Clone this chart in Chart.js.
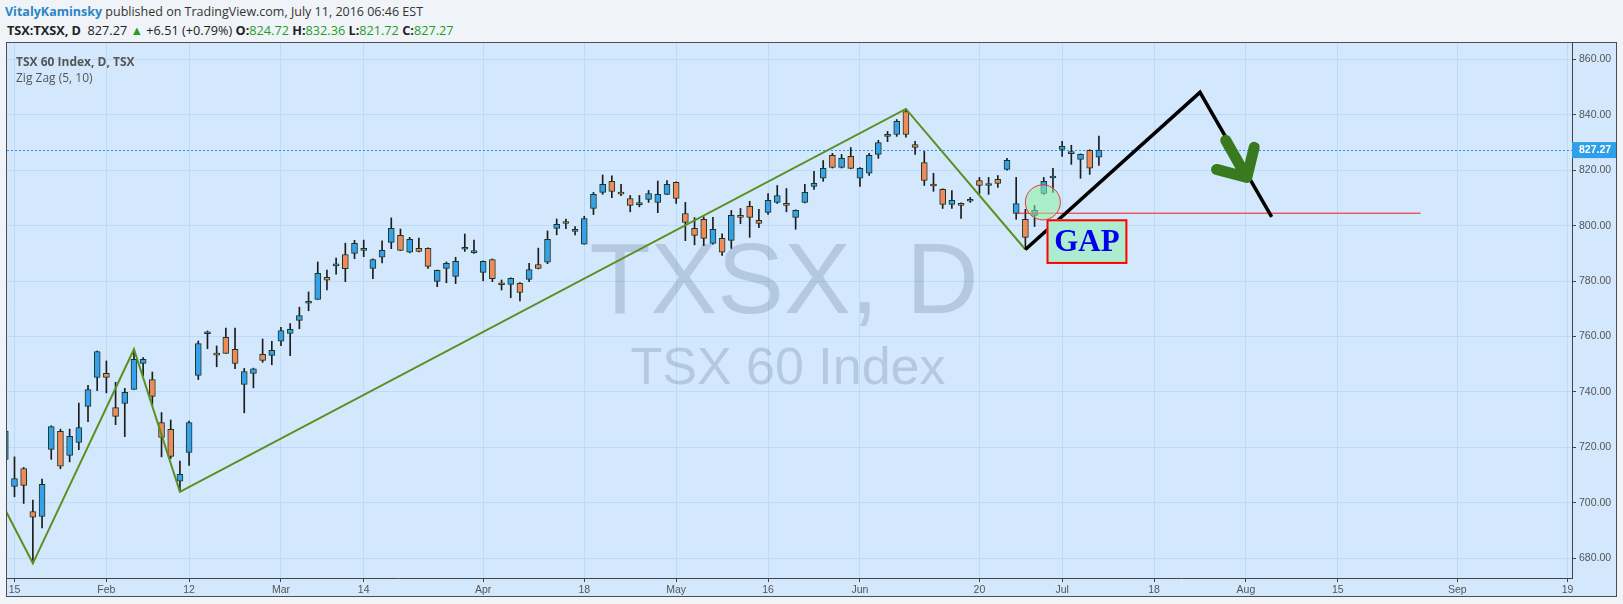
<!DOCTYPE html>
<html>
<head>
<meta charset="utf-8">
<script src="https://cdn.jsdelivr.net/npm/chart.js@4.4.0/dist/chart.umd.min.js"></script>
<style>
  body { margin: 0; width: 1623px; height: 604px; overflow: hidden; background: #f0f3f7; font-family: "Open Sans", sans-serif; }
  .hdr { position: absolute; white-space: nowrap; font-size: 12.5px; line-height: 16px; color: #333; }
  .g { color: #1f9e1f; }
  #panel { position: absolute; left: 6px; top: 42px; width: 1611px; height: 555px; box-sizing: border-box; border: 1px solid #4d4d4d; background: #d3e8fd; }
  #wrap { position: absolute; left: 0; top: 0; width: 1609px; height: 553px; }
  .lg { position: absolute; left: 9px; font-size: 12px; line-height: 14px; color: #555; white-space: nowrap; }
</style>
</head>
<body>
<div class="hdr" style="left:5px; top:4px;"><b style="color:#2a86c6">VitalyKaminsky</b> published on TradingView.com, July 11, 2016 06:46 EST</div>
<div class="hdr" style="left:7px; top:22px; color:#222; font-size:12.7px;"><b>TSX:TXSX, D</b>&nbsp; 827.27 <span class="g">&#9650;</span> +6.51 (+0.79%) <b>O:</b><span class="g">824.72</span> <b>H:</b><span class="g">832.36</span> <b>L:</b><span class="g">821.72</span> <b>C:</b><span class="g">827.27</span></div>
<div id="panel">
  <div id="wrap"><canvas id="chart"></canvas></div>
  <div class="lg" style="top:12px; font-weight:bold;">TSX 60 Index, D, TSX</div>
  <div class="lg" style="top:28px;">Zig Zag (5, 10)</div>
</div>
<script>
// daily candles, one per trading day (index 0 = first visible bar)
const OPEN = [715.7, 705.9, 712.4, 696.9, 695.1, 719.3, 725.8, 717.1, 721.8, 734.8,
  745.3, 746.7, 734.4, 735.9, 740.9, 750.3, 744.5, 729.0, 726.5, 707.8,
  718.2, 746.0, 761.0, 753.6, 759.7, 755.4, 742.7, 746.7, 753.6, 753.2,
  758.3, 761.1, 765.8, 772.0, 773.4, 781.4, 785.5, 789.6, 790.0, 791.1,
  784.6, 788.6, 794.0, 796.5, 790.4, 791.8, 791.8, 779.9, 784.6, 781.7,
  791.5, 790.3, 783.1, 787.8, 779.0, 778.8, 779.2, 780.6, 786.0, 786.8,
  799.0, 801.5, 797.9, 793.3, 806.2, 812.0, 816.0, 811.6, 809.8, 807.6,
  809.5, 808.4, 811.3, 815.6, 804.4, 799.0, 802.3, 793.6, 795.4, 794.7,
  803.7, 807.0, 801.9, 804.8, 808.4, 808.0, 803.0, 808.4, 814.2, 817.1,
  825.4, 821.0, 825.0, 817.1, 818.9, 825.7, 832.2, 832.9, 841.2, 829.3,
  822.8, 814.5, 813.1, 807.7, 808.0, 808.8, 816.3, 814.5, 816.7, 820.3,
  804.4, 802.3, 803.7, 811.6, 817.2, 827.5, 826.0, 823.9, 827.2, 824.72];
const HIGH = [727.0, 716.6, 712.8, 701.0, 708.6, 727.8, 726.6, 726.6, 736.0, 742.4,
  754.8, 751.2, 743.5, 741.3, 755.4, 752.4, 747.2, 732.6, 729.9, 715.1,
  729.5, 758.4, 762.0, 756.6, 763.1, 763.1, 748.5, 748.6, 759.1, 758.3,
  763.3, 764.7, 770.6, 776.1, 786.9, 784.0, 788.3, 793.7, 794.7, 794.8,
  788.0, 794.5, 802.8, 798.8, 795.8, 795.5, 792.0, 784.0, 786.9, 788.6,
  797.0, 794.8, 787.3, 788.0, 780.4, 781.2, 779.5, 786.4, 791.9, 798.1,
  802.4, 802.4, 799.7, 803.4, 812.0, 818.3, 818.0, 814.9, 810.9, 810.9,
  812.7, 816.1, 816.3, 815.8, 808.4, 802.9, 803.2, 803.0, 797.1, 805.5,
  806.2, 808.8, 805.9, 811.6, 814.5, 813.4, 805.7, 814.9, 819.6, 823.5,
  826.1, 825.7, 828.2, 821.0, 826.1, 830.8, 834.0, 838.3, 842.1, 830.4,
  826.8, 818.9, 813.3, 812.7, 808.2, 810.2, 817.4, 817.4, 818.1, 824.3,
  817.4, 805.9, 807.3, 817.4, 820.7, 830.4, 829.0, 825.9, 827.4, 832.36];
const LOW = [714.5, 702.2, 699.8, 678.2, 691.0, 715.7, 712.3, 714.8, 719.2, 729.3,
  740.5, 739.7, 728.2, 723.9, 740.9, 745.9, 735.3, 716.6, 716.0, 704.0,
  713.5, 744.5, 755.6, 749.1, 753.9, 748.4, 732.5, 741.5, 750.7, 749.8,
  756.7, 753.1, 762.8, 769.3, 773.4, 776.8, 782.5, 779.8, 788.1, 788.8,
  780.9, 786.6, 791.7, 791.0, 790.2, 790.5, 784.6, 778.0, 779.4, 779.1,
  790.7, 790.0, 780.1, 779.8, 776.8, 774.0, 772.9, 779.8, 784.4, 786.3,
  796.7, 798.9, 796.7, 793.3, 804.0, 811.3, 810.1, 810.8, 805.0, 806.8,
  808.4, 804.7, 811.2, 808.0, 794.6, 793.1, 792.8, 793.3, 789.3, 791.8,
  800.7, 795.8, 799.3, 804.1, 808.0, 805.0, 798.7, 808.2, 813.1, 816.0,
  820.8, 820.8, 820.5, 814.2, 818.1, 824.3, 830.3, 832.2, 831.9, 825.7,
  814.5, 812.4, 806.2, 806.2, 802.6, 808.4, 811.6, 811.3, 813.8, 820.0,
  802.3, 791.4, 799.7, 811.3, 812.0, 825.0, 822.1, 817.1, 818.5, 821.72];
const CLOSE = [725.9, 708.8, 706.3, 694.8, 706.7, 727.5, 713.2, 724.0, 727.2, 740.9,
  754.6, 745.3, 731.2, 739.9, 751.8, 751.8, 738.4, 723.6, 716.8, 710.3,
  729.0, 757.5, 761.3, 753.3, 753.9, 750.3, 747.4, 748.4, 751.4, 755.0,
  762.2, 762.6, 767.6, 772.3, 782.8, 780.3, 785.8, 784.5, 793.6, 791.8,
  787.8, 791.1, 799.0, 791.1, 795.1, 790.7, 785.3, 783.9, 786.4, 787.1,
  792.2, 790.6, 787.1, 780.9, 778.7, 781.0, 775.9, 784.2, 784.6, 795.1,
  800.5, 800.8, 798.7, 802.6, 811.3, 814.9, 812.4, 811.4, 807.3, 807.8,
  811.6, 811.3, 814.9, 809.8, 801.2, 796.5, 795.4, 798.7, 790.4, 803.7,
  803.0, 803.0, 800.8, 809.1, 810.9, 807.3, 805.5, 812.0, 815.3, 820.7,
  821.0, 824.3, 820.7, 820.7, 825.4, 830.0, 832.4, 837.6, 832.9, 828.2,
  816.3, 814.3, 807.7, 809.1, 807.3, 809.5, 814.5, 815.2, 815.2, 823.6,
  808.0, 795.8, 805.5, 816.0, 817.4, 828.6, 826.2, 825.7, 820.76, 827.27];

// x axis: bar index of each labelled date (future days continue the count)
const X_TICK_IDX = [1, 11, 20, 30, 39, 52, 63, 73, 83, 93, 106, 115, 125, 135, 145, 158, 170];
const X_TICK_LABELS = ["15", "Feb", "12", "Mar", "14", "Apr", "18", "May", "16", "Jun", "20", "Jul", "18", "Aug", "15", "Sep", "19"];
const Y_TICKS = [680, 700, 720, 740, 760, 780, 800, 820, 840, 860];

// Zig Zag (5, 10) pivots
const ZZ_X = [0.1, 3, 14, 19, 98, 111];
const ZZ_Y = [696.8, 678.2, 755.4, 704.0, 842.1, 791.4];

// drawings: projection, gap level, circle, GAP box, arrow
const PROJ_X = [111, 130, 137.8];
const PROJ_Y = [791.4, 848.1, 803.2];
const GAP_LINE_X = [110, 154];
const GAP_LINE_Y = [804.5, 804.5];
const CIRCLE_X = [112.9];
const CIRCLE_Y = [808.4];
const GAP_BOX_X = [113.3, 122.1];
const GAP_BOX_Y = [786.2, 802.3];
const ARROW_X = [132.8, 135.1, null, 131.8, 135.1, null, 135.9, 135.1];
const ARROW_Y = [830.8, 817.4, null, 820.3, 817.4, null, 828.3, 817.4];
const LAST = 827.27;

const UP = "#36a1ea";
const DOWN = "#ef8a5d";
const FONT = "Liberation Sans";

const idx = OPEN.map((_, i) => i);
const pts = (xs, ys) => xs.map((x, i) => ({ x: x, y: ys[i] }));

// no automatic padding round the plot: it fills the panel up to the axes
function noPad(s) {
  s.paddingLeft = 0;
  s.paddingRight = 0;
  s.paddingTop = 0;
  s.paddingBottom = 0;
}

// watermark + last price line, drawn under the candles
const underlay = {
  id: "underlay",
  beforeDatasetsDraw(chart) {
    const { ctx, chartArea: a, scales } = chart;
    ctx.save();
    ctx.fillStyle = "rgba(100, 120, 150, 0.28)";
    ctx.textAlign = "center";
    ctx.font = `100px "${FONT}"`;
    ctx.fillText("TXSX, D", a.left + 777, a.top + 270);
    ctx.font = `52px "${FONT}"`;
    ctx.fillText("TSX 60 Index", a.left + 781, a.top + 341);

    const y = Math.round(scales.y.getPixelForValue(LAST)) + 0.5;
    ctx.strokeStyle = "#2196f3";
    ctx.lineWidth = 1;
    ctx.setLineDash([2, 2]);
    ctx.beginPath();
    ctx.moveTo(a.left, y);
    ctx.lineTo(a.right, y);
    ctx.stroke();
    ctx.restore();
  },
};

// GAP box and price label on the axis
const overlay = {
  id: "overlay",
  afterDatasetsDraw(chart) {
    const { ctx, scales } = chart;
    const x0 = scales.x.getPixelForValue(GAP_BOX_X[0]);
    const x1 = scales.x.getPixelForValue(GAP_BOX_X[1]);
    const y0 = scales.y.getPixelForValue(GAP_BOX_Y[1]);
    const y1 = scales.y.getPixelForValue(GAP_BOX_Y[0]);
    ctx.save();
    ctx.fillStyle = "#aeecd0";
    ctx.fillRect(x0, y0, x1 - x0, y1 - y0);
    ctx.strokeStyle = "#ff0000";
    ctx.lineWidth = 2;
    ctx.strokeRect(x0 + 1, y0 + 1, x1 - x0 - 2, y1 - y0 - 2);
    ctx.fillStyle = "#0000f0";
    ctx.font = `bold 31px "Liberation Serif"`;
    ctx.textAlign = "center";
    ctx.textBaseline = "middle";
    ctx.fillText("GAP", (x0 + x1) / 2, (y0 + y1) / 2 + 1);
    ctx.restore();
  },
  afterDraw(chart) {
    const { ctx, chartArea: a, scales } = chart;
    const y = scales.y.getPixelForValue(LAST);
    ctx.save();
    ctx.fillStyle = "#2e9fe8";
    ctx.fillRect(a.right, y - 8, chart.width - a.right, 16);
    ctx.fillStyle = "#ffffff";
    ctx.font = `bold 10.5px "${FONT}"`;
    ctx.textBaseline = "middle";
    ctx.fillText(LAST.toFixed(2), a.right + 7, y + 0.5);
    ctx.restore();
  },
};

new Chart(document.getElementById("chart"), {
  type: "bar",
  data: {
    datasets: [
      {
        type: "bar",
        data: idx.map((i) => ({ x: i, y: [LOW[i], HIGH[i]] })),
        barThickness: 1,
        backgroundColor: "#1c1c1c",
        borderWidth: 0,
        grouped: false,
        order: 10,
      },
      {
        type: "bar",
        data: idx.map((i) => ({ x: i, y: [OPEN[i], CLOSE[i]] })),
        barThickness: 6,
        backgroundColor: (c) => (CLOSE[c.dataIndex] >= OPEN[c.dataIndex] ? UP : DOWN),
        borderColor: "#1b361d",
        borderWidth: 1,
        borderSkipped: false,
        minBarLength: 2,
        grouped: false,
        order: 9,
      },
      {
        type: "line",
        data: pts(ZZ_X, ZZ_Y),
        borderColor: "#5b8f1e",
        borderWidth: 2,
        pointRadius: 0,
        fill: false,
        order: 8,
      },
      {
        type: "line",
        data: pts(GAP_LINE_X, GAP_LINE_Y),
        borderColor: "rgba(255, 0, 0, 0.9)",
        borderWidth: 1,
        pointRadius: 0,
        fill: false,
        order: 7,
      },
      {
        type: "line",
        data: pts(CIRCLE_X, CIRCLE_Y),
        showLine: false,
        pointRadius: 17.5,
        pointBackgroundColor: "rgba(140, 240, 160, 0.55)",
        pointBorderColor: "#ee3333",
        pointBorderWidth: 1,
        order: 6,
      },
      {
        type: "line",
        data: pts(PROJ_X, PROJ_Y),
        borderColor: "#000000",
        borderWidth: 3.5,
        pointRadius: 0,
        fill: false,
        order: 5,
      },
      {
        type: "line",
        data: pts(ARROW_X, ARROW_Y),
        borderColor: "#3a7a1f",
        borderWidth: 11,
        borderCapStyle: "round",
        borderJoinStyle: "round",
        spanGaps: false,
        pointRadius: 0,
        fill: false,
        order: 4,
      },
    ],
  },
  options: {
    animation: false,
    responsive: true,
    maintainAspectRatio: false,
    layout: { padding: 0, autoPadding: false },
    plugins: {
      legend: { display: false },
      tooltip: { enabled: false },
    },
    scales: {
      x: {
        type: "linear",
        min: 0.185,
        max: 170.48,
        offset: false,
        afterBuildTicks: (s) => {
          s.ticks = X_TICK_IDX.map((v) => ({ value: v }));
        },
        afterFit: (s) => {
          s.height = 18;
          noPad(s);
        },
        ticks: {
          autoSkip: false,
          maxRotation: 0,
          padding: 2,
          color: "#555",
          font: { family: FONT, size: 10.5 },
          callback: (v, i) => X_TICK_LABELS[i],
        },
        grid: { offset: false, color: "#bcdaf9", tickColor: "#444", tickLength: 4 },
        border: { color: "#444", width: 1 },
      },
      y: {
        type: "linear",
        position: "right",
        min: 672.9,
        max: 865.9,
        afterBuildTicks: (s) => {
          s.ticks = Y_TICKS.map((v) => ({ value: v }));
        },
        afterFit: (s) => {
          s.width = 44;
          noPad(s);
        },
        ticks: {
          padding: 3,
          color: "#555",
          font: { family: FONT, size: 10.5 },
          callback: (v) => Number(v).toFixed(2),
        },
        grid: { color: "#bcdaf9", tickColor: "#444", tickLength: 4 },
        border: { color: "#444", width: 1 },
      },
    },
  },
  plugins: [underlay, overlay],
});
</script>
</body>
</html>
